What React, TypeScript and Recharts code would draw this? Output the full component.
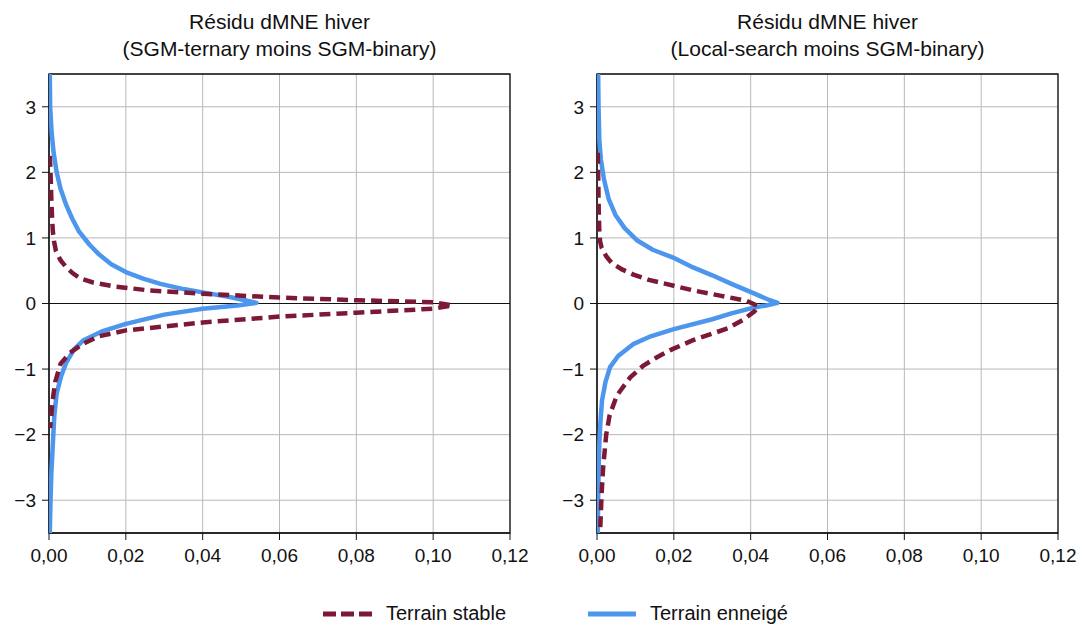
import React from 'react';
import { ScatterChart, Scatter, XAxis, YAxis, CartesianGrid, ReferenceLine, ReferenceArea } from 'recharts';

const xTicks = [0, 0.02, 0.04, 0.06, 0.08, 0.1, 0.12];
const yTicks = [-3, -2, -1, 0, 1, 2, 3];

const panelTitles = [
  ['Résidu dMNE hiver', '(SGM-ternary moins SGM-binary)'],
  ['Résidu dMNE hiver', '(Local-search moins SGM-binary)'],
];
const seriesNames = ['Terrain stable', 'Terrain enneigé'];

// Left panel – Terrain stable
const leftStableY = [2.25, 2.0, 1.6, 1.3, 1.1, 0.95, 0.8, 0.66, 0.55, 0.46, 0.38, 0.32, 0.26, 0.2, 0.15, 0.09, 0.05, 0.02, -0.03, -0.08, -0.14, -0.2, -0.29, -0.41, -0.5, -0.61, -0.75, -0.92, -1.2, -1.5, -1.9];
const leftStableX = [0.0002, 0.0004, 0.0006, 0.0008, 0.001, 0.0013, 0.0018, 0.003, 0.0045, 0.0062, 0.0082, 0.0115, 0.017, 0.026, 0.04, 0.06, 0.08, 0.1, 0.105, 0.1, 0.08, 0.06, 0.04, 0.02, 0.013, 0.009, 0.0055, 0.003, 0.0016, 0.0009, 0.0003];
// Left panel – Terrain enneigé
const leftSnowY = [3.5, 3.0, 2.6, 2.3, 2.0, 1.75, 1.5, 1.3, 1.1, 0.9, 0.75, 0.6, 0.48, 0.38, 0.3, 0.22, 0.17, 0.1, 0.05, 0.01, -0.03, -0.08, -0.17, -0.31, -0.42, -0.56, -0.7, -0.9, -1.1, -1.37, -1.7, -2.14, -2.6, -3.0, -3.5];
const leftSnowX = [0.0002, 0.0003, 0.0007, 0.0012, 0.002, 0.003, 0.0045, 0.006, 0.0078, 0.0105, 0.013, 0.0162, 0.02, 0.0245, 0.029, 0.035, 0.04, 0.047, 0.051, 0.054, 0.049, 0.04, 0.03, 0.02, 0.014, 0.009, 0.0065, 0.0045, 0.0032, 0.002, 0.0014, 0.001, 0.0006, 0.0004, 0.0002];
// Right panel – Terrain stable
const rightStableY = [2.3, 2.0, 1.6, 1.3, 1.1, 0.95, 0.85, 0.72, 0.62, 0.52, 0.44, 0.36, 0.27, 0.2, 0.12, 0.04, -0.04, -0.12, -0.25, -0.38, -0.56, -0.7, -0.82, -0.95, -1.13, -1.4, -1.7, -2.0, -2.5, -2.9, -3.5];
const rightStableX = [0.0002, 0.0003, 0.0004, 0.0005, 0.0006, 0.0008, 0.0012, 0.0024, 0.0038, 0.0065, 0.0095, 0.0135, 0.02, 0.025, 0.032, 0.039, 0.042, 0.041, 0.038, 0.034, 0.025, 0.0195, 0.0156, 0.012, 0.0086, 0.0052, 0.0033, 0.0024, 0.0016, 0.0012, 0.0008];
// Right panel – Terrain enneigé
const rightSnowY = [3.5, 3.0, 2.5, 2.2, 1.9, 1.6, 1.35, 1.15, 0.96, 0.82, 0.7, 0.55, 0.43, 0.3, 0.15, 0.05, 0.01, -0.03, -0.06, -0.15, -0.24, -0.39, -0.5, -0.62, -0.8, -0.97, -1.2, -1.48, -1.8, -2.14, -2.6, -3.0, -3.5];
const rightSnowX = [0.0003, 0.0004, 0.0006, 0.001, 0.0018, 0.003, 0.0048, 0.0072, 0.0105, 0.0145, 0.0198, 0.025, 0.03, 0.035, 0.041, 0.045, 0.047, 0.044, 0.041, 0.035, 0.03, 0.02, 0.014, 0.0094, 0.0055, 0.0034, 0.0022, 0.0013, 0.0009, 0.0006, 0.0004, 0.0003, 0.0002];

const STABLE = '#7c1a36';
const SNOW = '#4d96ee';
const FONT = '"Liberation Sans", Arial, sans-serif';
const FS = 19;

const toPts = (xs: number[], ys: number[]) => xs.map((x, i) => ({ x, y: ys[i] }));
const fmtX = (v: number) => v.toFixed(2).replace('.', ',');
const fmtY = (v: number) => (v < 0 ? '\u2212' + Math.abs(v) : String(v));
const noShape = () => <g />;

function Panel({ left, title, stable, snow }: { left: number; title: string[]; stable: { x: number; y: number }[]; snow: { x: number; y: number }[] }) {
  const tick = { fill: '#111', fontSize: FS, fontFamily: FONT };
  return (
    <div style={{ position: 'absolute', left, top: 0, width: 540, height: 575 }}>
      <div style={{ position: 'absolute', left: 29, top: 8, width: 501, textAlign: 'center', fontFamily: FONT, fontSize: 21, lineHeight: '27px', color: '#111' }}>
        <div>{title[0]}</div>
        <div>{title[1]}</div>
      </div>
      <ScatterChart width={540} height={575} margin={{ top: 74, right: 30, left: 0, bottom: 0 }}>
        <CartesianGrid stroke="#b8b8b8" strokeWidth={1} />
        <XAxis type="number" dataKey="x" domain={[0, 0.12]} ticks={xTicks} tickFormatter={fmtX} height={42}
          tick={tick} tickSize={7} tickMargin={9} stroke="#111" allowDataOverflow />
        <YAxis type="number" dataKey="y" domain={[-3.5, 3.5]} ticks={yTicks} tickFormatter={fmtY} width={49}
          tick={tick} tickSize={7} tickMargin={6} stroke="#111" allowDataOverflow />
        <ReferenceLine y={0} stroke="#111" strokeWidth={1} />
        <Scatter name={seriesNames[1]} data={snow} fill={SNOW} shape={noShape} lineType="joint"
          line={{ stroke: SNOW, strokeWidth: 4.5, strokeLinejoin: 'round' }} isAnimationActive={false} />
        <Scatter name={seriesNames[0]} data={stable} fill={STABLE} shape={noShape} lineType="joint"
          line={{ stroke: STABLE, strokeWidth: 4.5, strokeDasharray: '11 6' }} isAnimationActive={false} />
        <ReferenceArea x1={0} x2={0.12} y1={-3.5} y2={3.5} fill="none" fillOpacity={0} stroke="#111" strokeWidth={1.3} />
      </ScatterChart>
    </div>
  );
}

export default function App() {
  return (
    <div style={{ position: 'absolute', left: 0, top: 0, width: 1084, height: 625, background: '#fff', overflow: 'hidden' }}>
      <Panel left={0} title={panelTitles[0]} stable={toPts(leftStableX, leftStableY)} snow={toPts(leftSnowX, leftSnowY)} />
      <Panel left={548} title={panelTitles[1]} stable={toPts(rightStableX, rightStableY)} snow={toPts(rightSnowX, rightSnowY)} />
      <div style={{ position: 'absolute', left: 323, top: 602, display: 'flex', alignItems: 'center', fontFamily: FONT, fontSize: 20, color: '#111' }}>
        <svg width={50} height={8}><line x1={0} y1={4} x2={50} y2={4} stroke={STABLE} strokeWidth={5} strokeDasharray="13 5" /></svg>
        <span style={{ marginLeft: 13 }}>{seriesNames[0]}</span>
      </div>
      <div style={{ position: 'absolute', left: 588, top: 602, display: 'flex', alignItems: 'center', fontFamily: FONT, fontSize: 20, color: '#111' }}>
        <svg width={48} height={8}><line x1={0} y1={4} x2={48} y2={4} stroke={SNOW} strokeWidth={5} /></svg>
        <span style={{ marginLeft: 14 }}>{seriesNames[1]}</span>
      </div>
    </div>
  );
}
